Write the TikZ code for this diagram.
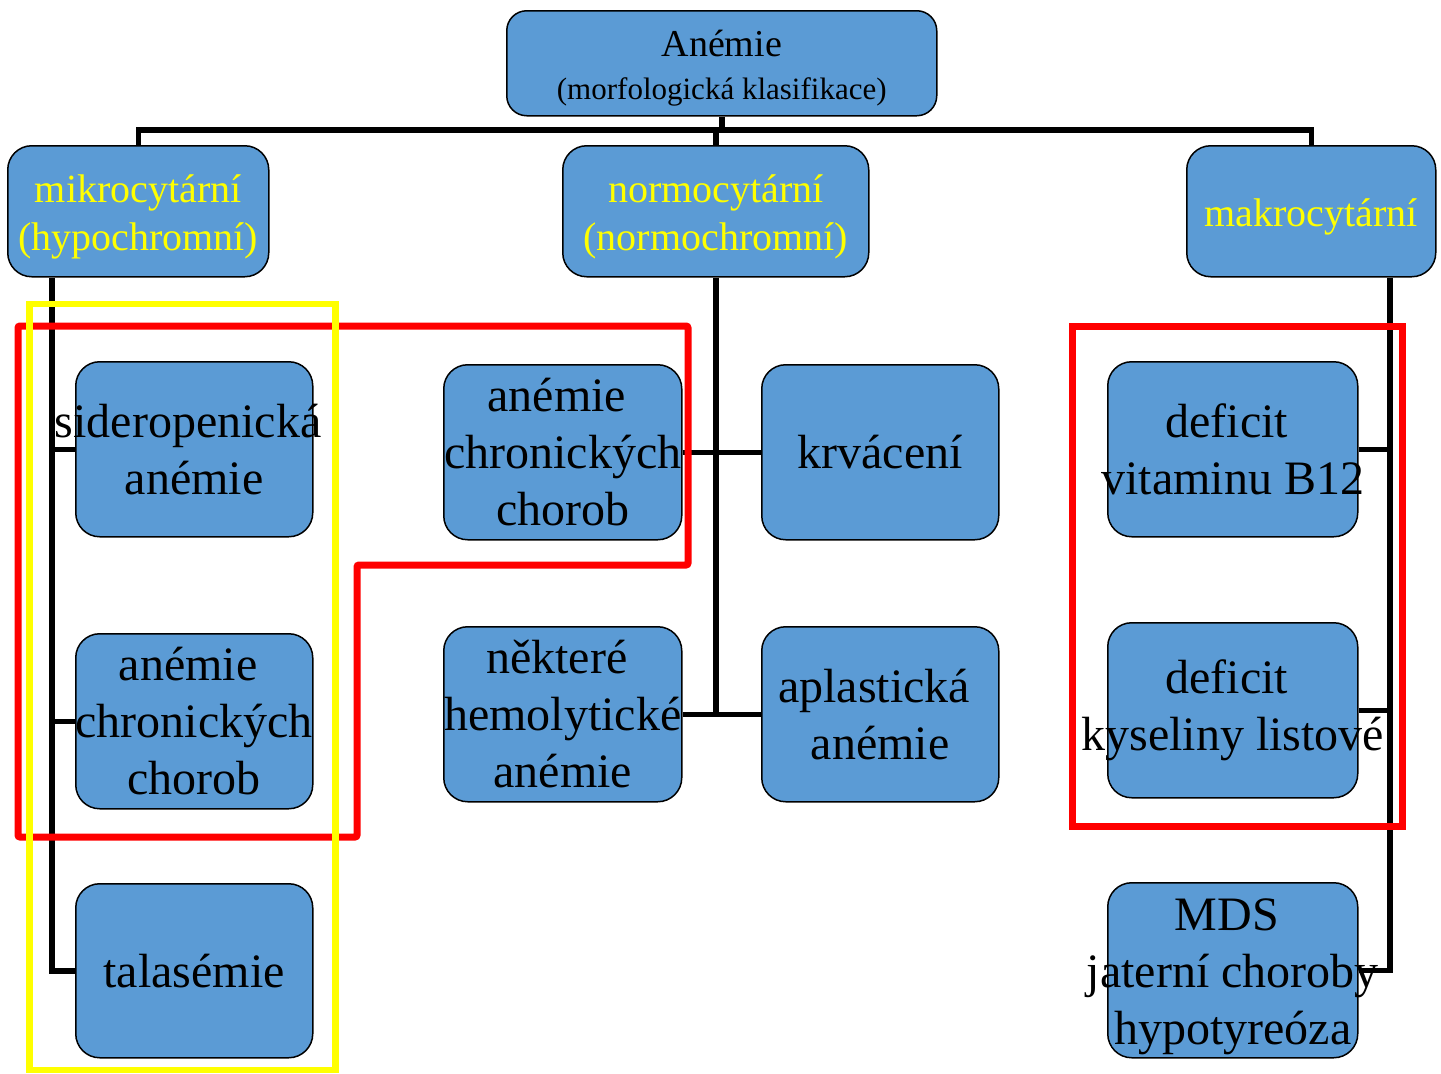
\documentclass[tikz,border=0pt]{standalone}
\usepackage{fontspec}
\setmainfont{Liberation Serif}
\usetikzlibrary{backgrounds}
\definecolor{boxblue}{HTML}{5B9BD5}
\definecolor{hlred}{HTML}{FF0000}
\definecolor{hlyellow}{HTML}{FFFF00}
\newcommand{\trsp}{\hspace*{12pt}}
\tikzset{
  box/.style={draw=black, line width=1.5pt, fill=boxblue, rounded corners=24pt,
    anchor=north west, inner sep=0pt},
  bigtxt/.style={font=\fontsize{48}{57}\selectfont, align=center, inner sep=0pt, text=black},
  cattxt/.style={font=\fontsize{40}{48}\selectfont, align=center, inner sep=0pt, text=hlyellow, yshift=-6pt},
  toptxt/.style={font=\fontsize{31}{43}\selectfont, align=center, inner sep=0pt, text=black, yshift=-5pt},
  conn/.style={draw=black, line width=5.5pt},
  redmark/.style={draw=hlred, line width=7pt},
  yelmark/.style={draw=hlyellow, line width=6.5pt}
}
\begin{document}
\begin{tikzpicture}[x=1pt,y=-1pt]
\useasboundingbox (0,0) rectangle (1441,1074);
% top
\node[box, rounded corners=20pt, minimum width=430pt, minimum height=105pt,
  label={[toptxt]center:{{\fontsize{38}{43}\selectfont Anémie}\\(morfologická klasifikace)}}] (top) at (506,10) {};
% level 2
\node[box, minimum width=261pt, minimum height=131pt,
  label={[cattxt]center:{mikrocytární\\(hypochromní)}}] (mik) at (7,145) {};
\node[box, minimum width=306pt, minimum height=131pt,
  label={[cattxt]center:{normocytární\\(normochromní)}}] (nor) at (562,145) {};
\node[box, minimum width=249pt, minimum height=131pt,
  label={[cattxt]center:{makrocytární}}] (mak) at (1186,145) {};
% left column
\node[box, minimum width=237pt, minimum height=175pt,
  label={[bigtxt]center:{sideropenická\trsp\\anémie}}] (sid) at (75,361) {};
\node[box, minimum width=237pt, minimum height=175pt,
  label={[bigtxt]center:{anémie\trsp\\chronických\trsp\\chorob}}] (acl) at (75,633) {};
\node[box, minimum width=237pt, minimum height=174pt,
  label={[bigtxt]center:{talasémie}}] (tal) at (75,883) {};
% middle
\node[box, minimum width=238pt, minimum height=175pt,
  label={[bigtxt]center:{anémie\trsp\\chronických\trsp\\chorob}}] (acm) at (443,364) {};
\node[box, minimum width=237pt, minimum height=175pt,
  label={[bigtxt]center:{krvácení}}] (krv) at (761,364) {};
\node[box, minimum width=238pt, minimum height=175pt,
  label={[bigtxt]center:{některé\trsp\\hemolytické\trsp\\anémie}}] (hem) at (443,626) {};
\node[box, minimum width=237pt, minimum height=175pt,
  label={[bigtxt]center:{aplastická\trsp\\anémie}}] (apl) at (761,626) {};
% right
\node[box, minimum width=250pt, minimum height=175pt,
  label={[bigtxt]center:{deficit\trsp\\vitaminu B12}}] (b12) at (1107,361) {};
\node[box, minimum width=250pt, minimum height=175pt,
  label={[bigtxt]center:{deficit\trsp\\kyseliny listové}}] (kys) at (1107,622) {};
\node[box, minimum width=250pt, minimum height=175pt,
  label={[bigtxt, yshift=-7pt]center:{MDS\trsp\\jaterní choroby\\hypotyreóza}}] (mds) at (1107,882) {};
% connectors
\begin{scope}[on background layer]
\draw[conn] (top.south) -- (top.south |- 0,130);
\draw[conn] (mik.north) -- (mik.north |- 0,130) -- (mak.north |- 0,130) -- (mak.north);
\draw[conn] (nor.north) -- (nor.north |- 0,130);
\draw[conn] (mik.south -| 52,0) |- (tal.west);
\draw[conn] (sid.west -| 52,0) -- (sid.west);
\draw[conn] (acl.west -| 52,0) -- (acl.west);
\draw[conn] (nor.south) -- (nor.south |- hem.east);
\draw[conn] (acm.east) -- (krv.west);
\draw[conn] (hem.east) -- (apl.west);
\draw[conn] (mak.south -| 1390,0) |- (mds.east);
\draw[conn] (b12.east) -- (b12.east -| 1390,0);
\draw[conn] (kys.east) -- (kys.east -| 1390,0);
\end{scope}
% highlight frames
\draw[redmark, rounded corners=2pt] (18,326) -- (688,326) -- (688,565) -- (357,565) -- (357,837) -- (18,837) -- cycle;
\draw[redmark] (1072,326) rectangle (1402,826);
\draw[yelmark] (29.5,304) rectangle (335.5,1070);
\end{tikzpicture}
\end{document}
